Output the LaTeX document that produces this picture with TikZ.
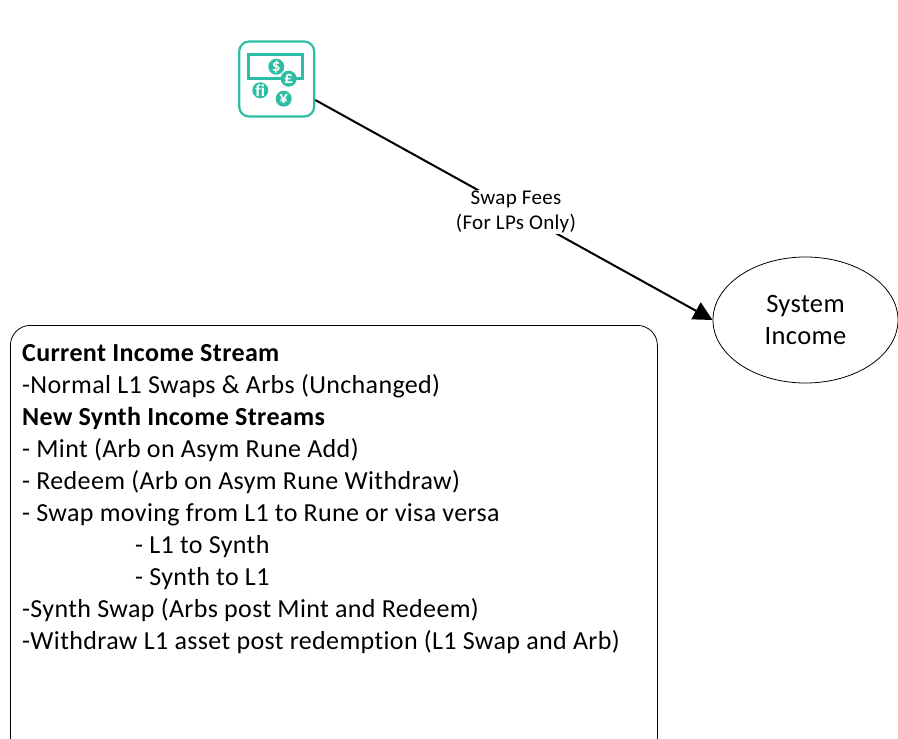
\documentclass[tikz,border=0pt]{standalone}
\usepackage{fontspec}
\setmainfont{Carlito}[LetterSpace=1.4,Ligatures=NoCommon]
\usetikzlibrary{positioning}
\usetikzlibrary{arrows.meta}
\usetikzlibrary{shapes.geometric}
\definecolor{iconteal}{HTML}{2DBDA4}
\begin{document}
\begin{tikzpicture}[
      x=1pt, y=-1pt,
      type-icon/.style={rectangle, rounded corners=10pt, draw=iconteal, line width=2.2pt, minimum width=75pt, minimum height=75pt, inner sep=0pt},
      type-note/.style={rectangle, draw=iconteal, line width=2.2pt, minimum width=54pt, minimum height=24pt, inner sep=0pt},
      type-coin/.style={circle, fill=iconteal, text=white, minimum size=16pt, inner sep=0pt, font=\fontsize{17}{17}\selectfont\bfseries},
      type-income/.style={ellipse, draw, line width=0.8pt, minimum width=185pt, minimum height=126pt, align=center, inner sep=0pt, font=\fontsize{26.5}{32}\selectfont},
      type-stream/.style={rectangle, draw, line width=0.8pt, rounded corners=20pt, minimum width=647pt, minimum height=440pt, inner sep=0pt},
      type-label/.style={fill=white, align=center, inner sep=1pt, font=\fontsize{21}{25}\selectfont}
    ]
      \useasboundingbox (0,0) rectangle (898,739);
      \node[type-icon] (fees) at (276.7,79) {};
      \node[type-note] (note) at (275.5,66.5) {};
      \node[type-coin] (dollar) at (276.3,66.7) {\$};
      \node[type-coin] (pound) at (288.7,78.7) {£};
      \node[type-coin] (franc) at (260.3,90.3) {fi};
      \node[type-coin] (yen) at (283.7,98.7) {¥};
      \node[type-income] (income) at (805.5,320) {System\\Income};
      \node[type-stream, anchor=north west] (stream) at (10,325) {};
      \node[anchor=north west, align=left, inner sep=0pt, font=\fontsize{26}{32}\selectfont] (streamtext) at (22,344) {%
        \textbf{Current Income Stream}\\
        -Normal L1 Swaps \& Arbs (Unchanged)\\
        \textbf{New Synth Income Streams}\\
        - Mint (Arb on Asym Rune Add)\\
        - Redeem (Arb on Asym Rune Withdraw)\\
        - Swap moving from L1 to Rune or visa versa\\
        \hspace{113pt}- L1 to Synth\\
        \hspace{113pt}- Synth to L1\\
        -Synth Swap (Arbs post Mint and Redeem)\\
        -Withdraw L1 asset post redemption (L1 Swap and Arb)};
      \draw[-{Triangle[length=19pt,width=19pt]}, line width=2pt] (fees.east |- 0,100) -- (income.west)
        node[type-label, pos=0.505, yshift=-1pt] (feelabel) {Swap Fees\\(For LPs Only)};
    \end{tikzpicture}
\end{document}
